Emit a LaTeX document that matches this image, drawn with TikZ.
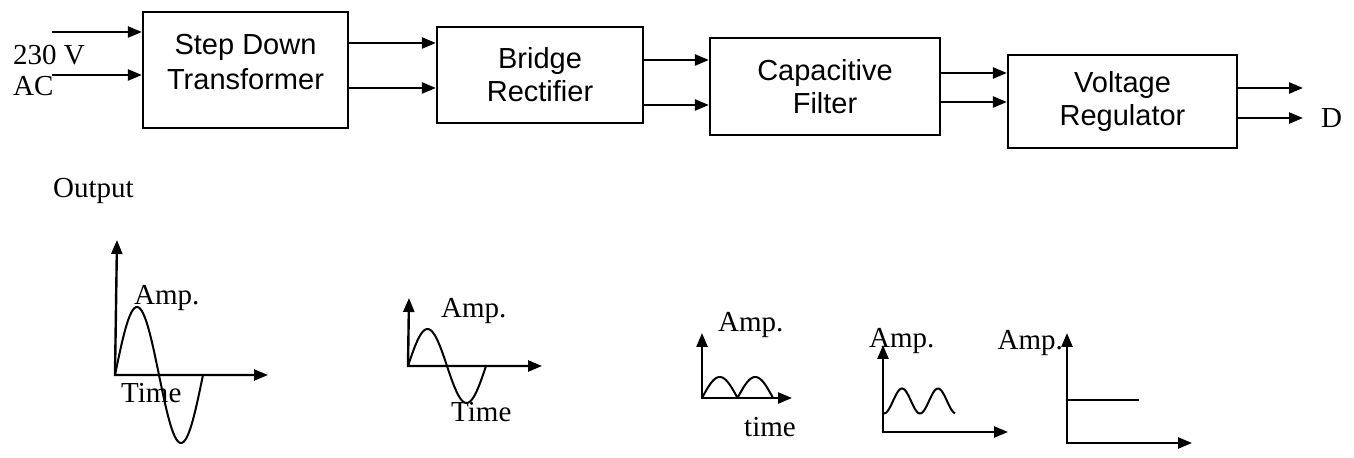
\documentclass[tikz,border=0pt]{standalone}
\usepackage{fontspec}
\setmainfont{Liberation Serif}
\newfontfamily\boxfont{Liberation Sans}
\usetikzlibrary{arrows.meta,positioning}

\begin{document}
\begin{tikzpicture}[x=0.5pt, y=-0.5pt, >={Triangle[length=7pt,width=5.5pt]}, line width=1.2pt,
    every node/.style={font=\fontsize{14.5}{17}\selectfont, inner sep=0pt},
    block/.style={draw, line width=1.1pt, align=center, inner sep=0pt, font=\boxfont\fontsize{14.5}{16.5}\selectfont},
    blocktext/.style={align=center, font=\boxfont\fontsize{14.5}{17.5}\selectfont},
    wave/.style={line width=1pt}]
    \useasboundingbox (0,0) rectangle (1354,458);
    % block chain
    \node[block, minimum width=102.5pt, minimum height=58pt] (sdt) at (245.5,70) {};
    \node[blocktext] (sdtname) at ([yshift=4pt]sdt.center) {Step Down\\Transformer};
    \node[block, minimum width=103pt, minimum height=48pt] (br) at (540,75) {Bridge\\Rectifier};
    \node[block, minimum width=115pt, minimum height=48.5pt] (cf) at (825,86.5) {Capacitive\\Filter};
    \node[block, minimum width=114.5pt, minimum height=46.5pt] (vr) at (1122.5,101.5) {Voltage\\Regulator};
    \coordinate (in1) at (52,32);
    \coordinate (in2) at (52,75);
    \coordinate (out1) at (1303,88);
    \coordinate (out2) at (1303,118);
    \draw[->] (in1) -- (sdt.west |- in1);
    \draw[->] (in2) -- (sdt.west |- in2);
    \draw[->] (sdt.east |- 0,43) -- (br.west |- 0,43);
    \draw[->] (sdt.east |- 0,88) -- (br.west |- 0,88);
    \draw[->] (br.east |- 0,60) -- (cf.west |- 0,60);
    \draw[->] (br.east |- 0,105) -- (cf.west |- 0,105);
    \draw[->] (cf.east |- 0,73) -- (vr.west |- 0,73);
    \draw[->] (cf.east |- 0,102) -- (vr.west |- 0,102);
    \draw[->] (vr.east |- out1) -- (out1);
    \draw[->] (vr.east |- out2) -- (out2);
    \node[anchor=base west] (ac1) at (12,65) {230 V};
    \node[anchor=base west] (ac2) at (12,96) {AC};
    \node[anchor=west] (dc) at (1320,118) {D};
    \node[anchor=base west] (outp) at (52,198) {Output};
    % waveforms
    \coordinate (o1) at (115,375); \coordinate (t1) at (117,240); \coordinate (r1) at (268,375);
    \coordinate (o2) at (408,366); \coordinate (t2) at (409,298); \coordinate (r2) at (542,366);
    \coordinate (o3) at (702,398); \coordinate (t3) at (702,333); \coordinate (r3) at (792,398);
    \coordinate (o4) at (883,432); \coordinate (t4) at (883,345); \coordinate (r4) at (1008,432);
    \coordinate (o5) at (1067,443); \coordinate (t5) at (1067,333); \coordinate (r5) at (1192,443);
    \foreach \g in {1,...,5} \draw[<->] (t\g) -- (o\g) -- (r\g);
    \draw[wave] plot[domain=0:88, samples=60, smooth] ({115+\x},{375-68*sin(\x/44*180)});
    \draw[wave] plot[domain=0:78, samples=50, smooth] ({408+\x},{366-37*sin(\x/39*180)});
    \draw[wave] plot[domain=0:71, samples=60, smooth] ({702+\x},{398-21*abs(sin(\x/35.5*180))});
    \draw[wave] plot[domain=0:72, samples=50, smooth] ({883+\x},{401-12.5*cos((\x-19)/36*360)});
    \draw[wave] (o5 |- 0,400) -- (1139,400);
    \node[anchor=base west] (amp1) at (133,305) {Amp.};
    \node[anchor=base west] (tim1) at (120,403) {Time};
    \node[anchor=base west] (amp2) at (440,318) {Amp.};
    \node[anchor=base west] (tim2) at (450,422) {Time};
    \node[anchor=base west] (amp3) at (717,332) {Amp.};
    \node[anchor=base west] (tim3) at (743,437) {time};
    \node[anchor=base west] (amp4) at (868,348) {Amp.};
    \node[anchor=base east] (amp5) at (1064,350) {Amp.};
\end{tikzpicture}
\end{document}
